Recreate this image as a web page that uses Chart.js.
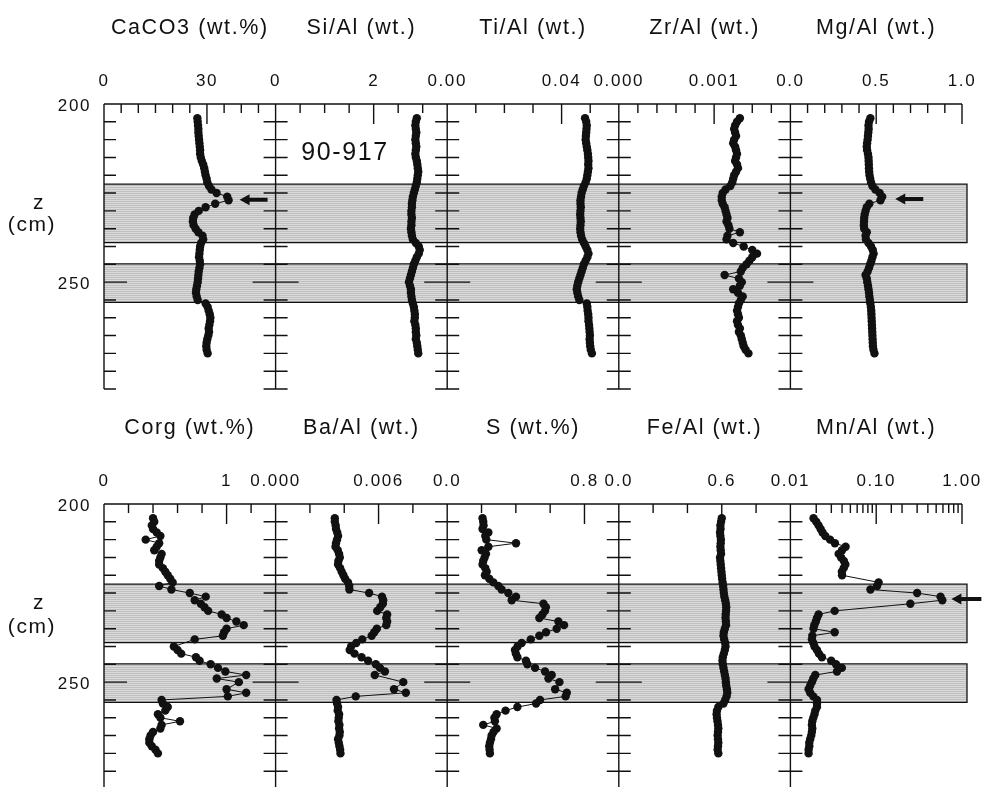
<!DOCTYPE html>
<html>
<head>
<meta charset="utf-8">
<script src="https://cdn.jsdelivr.net/npm/chart.js@4.4.0/dist/chart.umd.min.js"></script>
<style>
  html, body { margin: 0; padding: 0; background: #fff; overflow: hidden; }
  .row { position: absolute; left: 0; width: 982px; height: 400px; }
</style>
</head>
<body>
<div class="row" style="top:0"><canvas id="upper" width="982" height="400"></canvas></div>
<div class="row" style="top:400px"><canvas id="lower" width="982" height="400"></canvas></div>
<script>
// sample depths (cm), shared by every profile
const depth = [204, 205, 206, 207, 208, 209, 210, 211, 212, 213,
  214, 215, 216, 217, 218, 219, 220, 221, 222, 223,
  224, 225, 226, 227, 228, 229, 230, 231, 232, 233,
  234, 235, 236, 237, 238, 239, 240, 241, 242, 243,
  244, 245, 246, 247, 248, 249, 250, 251, 252, 253,
  254, 255, 256, 257, 258, 259, 260, 261, 262, 263,
  264, 265, 266, 267, 268, 269, 270];

// upper row
const caco3 = [27.2, 27.3, 27.4, 27.5, 27.5, 27.6, 27.7, 27.8, 27.9, 28.0,
  28.0, 28.2, 28.5, 28.9, 29.2, 29.4, 29.6, 29.9, 30.1, 30.6,
  31.3, 32.8, 35.9, 36.3, 32.4, 29.6, 27.6, 26.4, 26.0, 25.9,
  26.1, 26.7, 27.5, 28.7, 28.9, 28.3, 28.0, 27.9, 27.8, 27.7,
  27.9, 28.0, 27.8, 27.6, 27.5, 27.4, 27.3, 27.1, 26.9, 26.8,
  27.0, 27.3, 29.6, 30.2, 30.5, 30.8, 31.0, 30.9, 30.7, 30.5,
  30.6, 30.4, 30.1, 29.9, 29.8, 29.9, 30.2];
const siAl = [2.88, 2.86, 2.85, 2.86, 2.87, 2.86, 2.85, 2.86, 2.87, 2.86,
  2.85, 2.86, 2.88, 2.89, 2.90, 2.91, 2.90, 2.89, 2.88, 2.86,
  2.84, 2.82, 2.80, 2.79, 2.78, 2.78, 2.77, 2.77, 2.78, 2.77,
  2.77, 2.76, 2.77, 2.78, 2.80, 2.86, 2.92, 2.94, 2.92, 2.88,
  2.85, 2.82, 2.80, 2.78, 2.76, 2.74, 2.72, 2.74, 2.76, 2.76,
  2.77, 2.78, 2.80, 2.82, 2.83, 2.84, 2.84, 2.83, 2.85, 2.86,
  2.86, 2.87, 2.86, 2.88, 2.89, 2.90, 2.91];
const tiAl = [0.0482, 0.0486, 0.0488, 0.0487, 0.0486, 0.0485, 0.0484, 0.0486, 0.0488, 0.0490,
  0.0492, 0.0493, 0.0494, 0.0493, 0.0494, 0.0492, 0.0490, 0.0488, 0.0484, 0.0478,
  0.0474, 0.0470, 0.0468, 0.0466, 0.0466, 0.0467, 0.0466, 0.0465, 0.0466, 0.0467,
  0.0466, 0.0465, 0.0466, 0.0468, 0.0472, 0.0478, 0.0484, 0.0490, 0.0494, 0.0490,
  0.0484, 0.0478, 0.0474, 0.0470, 0.0466, 0.0462, 0.0458, 0.0455, 0.0453, 0.0455,
  0.0458, 0.0462, 0.0488, 0.0490, 0.0491, 0.0493, 0.0494, 0.0494, 0.0496, 0.0497,
  0.0498, 0.0499, 0.0498, 0.0499, 0.0500, 0.0502, 0.0506];
const zrAl = [0.00127, 0.00124, 0.00122, 0.00121, 0.00122, 0.00123, 0.00121, 0.00120, 0.00122, 0.00123,
  0.00124, 0.00123, 0.00122, 0.00124, 0.00125, 0.00123, 0.00121, 0.00120, 0.00119, 0.00117,
  0.00112, 0.00109, 0.00108, 0.00108, 0.00109, 0.00111, 0.00112, 0.00113, 0.00114, 0.00113,
  0.00115, 0.00116, 0.00127, 0.00114, 0.00113, 0.00120, 0.00131, 0.00140, 0.00145, 0.00140,
  0.00137, 0.00134, 0.00130, 0.00128, 0.00111, 0.00126, 0.00129, 0.00127, 0.00120, 0.00125,
  0.00130, 0.00128, 0.00126, 0.00125, 0.00124, 0.00125, 0.00126, 0.00124, 0.00125, 0.00127,
  0.00126, 0.00128, 0.00129, 0.00130, 0.00131, 0.00133, 0.00136];
const mgAl = [0.466, 0.458, 0.455, 0.456, 0.454, 0.452, 0.450, 0.447, 0.445, 0.447,
  0.452, 0.455, 0.456, 0.457, 0.458, 0.459, 0.461, 0.465, 0.470, 0.478,
  0.495, 0.520, 0.535, 0.525, 0.460, 0.445, 0.438, 0.433, 0.430, 0.429,
  0.428, 0.430, 0.445, 0.438, 0.440, 0.455, 0.470, 0.480, 0.485, 0.478,
  0.472, 0.465, 0.458, 0.450, 0.438, 0.445, 0.448, 0.452, 0.455, 0.458,
  0.460, 0.463, 0.466, 0.469, 0.471, 0.472, 0.473, 0.474, 0.475, 0.476,
  0.477, 0.478, 0.479, 0.480, 0.481, 0.484, 0.490];

// lower row (null = no sample at that depth)
const corg = [0.40, 0.41, 0.39, 0.40, 0.43, 0.46, 0.34, 0.45, 0.43, 0.41,
  0.47, 0.46, 0.45, 0.45, 0.48, 0.50, 0.52, 0.54, 0.56, 0.45,
  0.55, 0.70, 0.83, 0.74, 0.79, 0.82, 0.85, 0.96, 1.00, 1.08,
  1.14, 1.00, 0.98, 0.97, 0.74, null, 0.57, 0.60, 0.63, 0.75,
  0.78, 0.87, 0.93, 0.99, 1.16, 0.92, 1.10, null, 1.00, 1.16,
  1.01, 0.47, 0.48, 0.52, 0.50, 0.44, 0.46, 0.62, 0.47, 0.46,
  0.40, 0.38, 0.37, 0.37, 0.39, 0.42, 0.44];
const baAl = [0.00345, 0.00345, 0.00350, 0.00352, 0.00359, 0.00364, 0.00358, 0.00352, 0.00349, 0.00362,
  0.00370, 0.00374, 0.00366, 0.00364, 0.00376, 0.00385, 0.00395, 0.00405, 0.00422, 0.00429,
  0.00430, 0.00545, 0.00620, 0.00627, 0.00625, 0.00610, 0.00592, 0.00650, 0.00645, 0.00650,
  0.00645, 0.00590, 0.00575, 0.00560, 0.00505, 0.00470, 0.00440, 0.00432, 0.00460, 0.00501,
  0.00539, 0.00584, 0.00608, 0.00637, 0.00578, null, 0.00744, null, 0.00690, 0.00759,
  0.00467, 0.00355, 0.00358, 0.00364, 0.00362, 0.00370, 0.00368, 0.00366, 0.00372, 0.00370,
  0.00374, 0.00372, 0.00364, 0.00368, 0.00372, 0.00376, 0.00378];
const sulf = [0.206, 0.210, 0.212, 0.206, 0.240, 0.222, 0.228, 0.401, 0.240, 0.201,
  0.226, 0.218, 0.210, 0.206, 0.222, 0.230, 0.220, 0.245, 0.269, 0.298,
  0.317, 0.356, 0.401, 0.376, 0.561, 0.575, 0.570, 0.555, 0.537, 0.648,
  0.681, 0.638, 0.576, 0.537, 0.487, 0.434, 0.410, 0.395, 0.400, 0.409,
  0.459, 0.467, 0.512, 0.570, 0.609, 0.590, 0.654, null, 0.629, 0.697,
  0.690, 0.541, 0.518, 0.409, 0.340, 0.288, 0.275, 0.278, 0.210, 0.288,
  0.270, 0.259, 0.255, 0.249, 0.245, 0.247, 0.249];
const feAl = [0.600, 0.596, 0.592, 0.593, 0.590, 0.592, 0.595, 0.594, 0.592, 0.594,
  0.596, 0.590, 0.592, 0.594, 0.596, 0.598, 0.600, 0.602, 0.605, 0.608,
  0.610, 0.612, 0.615, 0.620, 0.624, 0.626, 0.625, 0.623, 0.622, 0.624,
  0.625, 0.618, 0.612, 0.610, 0.614, 0.620, 0.622, 0.618, 0.612, 0.606,
  0.604, 0.606, 0.610, 0.614, 0.618, 0.622, 0.624, 0.626, 0.630, 0.632,
  0.628, 0.620, 0.610, 0.580, 0.572, 0.570, 0.572, 0.575, 0.578, 0.580,
  0.578, 0.576, 0.578, 0.580, 0.578, 0.576, 0.580];
const mnAl = [0.0186, 0.0200, 0.0213, 0.0225, 0.0237, 0.0255, 0.0290, 0.0330, 0.0440, 0.0400,
  0.0365, 0.0390, 0.0420, 0.0437, 0.0418, 0.0398, 0.0400, null, 0.1067, 0.1023,
  0.0857, 0.300, 0.562, 0.590, 0.250, null, 0.0328, 0.0213, 0.0204, 0.0198,
  0.0190, 0.0186, 0.0328, 0.0180, 0.0178, 0.0185, 0.0191, 0.0204, 0.0215, 0.0233,
  0.0299, 0.0340, 0.0398, 0.0349, 0.0195, 0.0185, 0.0178, 0.0170, 0.0163, 0.0170,
  0.0185, 0.0204, 0.0204, 0.0204, 0.0195, 0.0191, 0.0185, 0.0180, 0.0178, 0.0180,
  0.0178, 0.0175, 0.0170, 0.0166, 0.0166, 0.0163, 0.0163];

// shaded intervals (cm)
const bands = [[222.5, 238.9], [244.9, 255.7]];

// labelled ticks
const depthLabels = ['200', '250'];
const caco3Ticks = ['0', '30'];
const siTicks = ['0', '2'];
const tiTicks = ['0.00', '0.04'];
const zrTicks = ['0.000', '0.001'];
const mgTicks = ['0.0', '0.5', '1.0'];
const corgTicks = ['0', '1'];
const baTicks = ['0.000', '0.006'];
const sTicks = ['0.0', '0.8'];
const feTicks = ['0.0', '0.6'];
const mnTicks = ['0.01', '0.10', '1.00'];

const ink = '#111';
const family = '"Liberation Sans", Arial, Helvetica, sans-serif';

function labelFor(list, v) {
  const hit = list.find(t => Math.abs(Number(t) - v) < 1e-7);
  return hit === undefined ? '' : hit;
}

const upperPanels = [
  {title: 'CaCO3 (wt.%)', values: caco3, min: 0, max: 50, step: 5, labels: caco3Ticks},
  {title: 'Si/Al (wt.)', values: siAl, min: 0, max: 3.5, step: 0.5, labels: siTicks},
  {title: 'Ti/Al (wt.)', values: tiAl, min: 0, max: 0.06, step: 0.01, labels: tiTicks},
  {title: 'Zr/Al (wt.)', values: zrAl, min: 0, max: 0.0018, step: 0.0002, labels: zrTicks},
  {title: 'Mg/Al (wt.)', values: mgAl, min: 0, max: 1, step: 0.1, labels: mgTicks}
];
const lowerPanels = [
  {title: 'Corg (wt.%)', values: corg, min: 0, max: 1.4, step: 0.2, labels: corgTicks},
  {title: 'Ba/Al (wt.)', values: baAl, min: 0, max: 0.01, step: 0.002, labels: baTicks},
  {title: 'S (wt.%)', values: sulf, min: 0, max: 1, step: 0.2, labels: sTicks},
  {title: 'Fe/Al (wt.)', values: feAl, min: 0, max: 1, step: 0.2, labels: feTicks},
  {title: 'Mn/Al (wt.)', values: mnAl, min: 0.01, max: 1, log: true, labels: mnTicks}
];

// fine horizontal hatching for the shaded intervals
function bandPattern(ctx) {
  const c = document.createElement('canvas');
  c.width = 4; c.height = 2;
  const g = c.getContext('2d');
  g.fillStyle = '#dadada'; g.fillRect(0, 0, 4, 2);
  g.fillStyle = '#bfbfbf'; g.fillRect(0, 1, 4, 1);
  return ctx.createPattern(c, 'repeat');
}

// scales keep a fixed size and ask for no extra room around the plot
function fixSize(s, w, h) {
  if (w) s.width = w;
  if (h) s.height = h;
  s.paddingLeft = s.paddingRight = s.paddingTop = s.paddingBottom = 0;
}

// frame, shading, tick marks, arrows and notes
const panelFrame = {
  id: 'panelFrame',
  beforeDraw(chart) {
    chart.ctx.letterSpacing = '1.6px';
  },
  beforeDatasetsDraw(chart, args, opts) {
    const {ctx, chartArea: a, scales} = chart;
    const y = scales.y;
    ctx.save();
    const fill = bandPattern(ctx);
    bands.forEach(([d0, d1]) => {
      const y0 = y.getPixelForValue(d0), y1 = y.getPixelForValue(d1);
      ctx.fillStyle = fill;
      ctx.fillRect(a.left, y0, a.right + 5 - a.left, y1 - y0);
      ctx.strokeStyle = ink;
      ctx.lineWidth = 1.3;
      ctx.beginPath();
      ctx.moveTo(a.left, y0);
      ctx.lineTo(a.right + 5, y0);
      ctx.lineTo(a.right + 5, y1);
      ctx.lineTo(a.left, y1);
      ctx.stroke();
    });

    ctx.strokeStyle = ink;
    ctx.lineWidth = 1.4;
    ctx.beginPath();
    ctx.moveTo(a.left, a.top);
    ctx.lineTo(a.right, a.top);
    opts.panels.forEach((p, i) => {
      const s = scales['x' + i];
      ctx.moveTo(s.left, a.top);
      ctx.lineTo(s.left, a.bottom);
      // value ticks hanging from the top line
      s.ticks.forEach(t => {
        const px = s.getPixelForValue(t.value);
        const len = labelFor(p.labels, t.value) ? 20 : 9;
        ctx.moveTo(px, a.top);
        ctx.lineTo(px, a.top + len);
      });
    });
    // depth ticks on every panel axis
    y.ticks.forEach(t => {
      if (t.value <= 200) return;
      const py = y.getPixelForValue(t.value);
      const len = depthLabels.includes(String(t.value)) ? 23 : 12;
      opts.panels.forEach((p, i) => {
        const sx = scales['x' + i].left;
        ctx.moveTo(i === 0 ? sx : sx - len, py);
        ctx.lineTo(sx + len, py);
      });
    });
    ctx.stroke();
    ctx.restore();
  },
  afterDatasetsDraw(chart, args, opts) {
    const {ctx, scales, chartArea: a} = chart;
    ctx.save();
    ctx.fillStyle = ink;
    (opts.arrows || []).forEach(ar => {
      const x = scales[ar.axis].getPixelForValue(ar.value);
      const yy = scales.y.getPixelForValue(ar.depth);
      ctx.beginPath();
      ctx.moveTo(x, yy);
      ctx.lineTo(x + 10, yy - 5.5);
      ctx.lineTo(x + 10, yy - 2);
      ctx.lineTo(x + ar.len, yy - 2);
      ctx.lineTo(x + ar.len, yy + 2);
      ctx.lineTo(x + 10, yy + 2);
      ctx.lineTo(x + 10, yy + 5.5);
      ctx.closePath();
      ctx.fill();
    });
    ctx.textAlign = 'center';
    ctx.textBaseline = 'middle';
    (opts.notes || []).forEach(n => {
      ctx.font = n.size + 'px ' + family;
      ctx.fillText(n.text, n.x, a.top + n.dy);
    });
    ctx.restore();
  }
};

function makeRow(id, panels, arrows, notes) {
  const scales = {
    y: {
      type: 'linear', position: 'left', reverse: true, min: 200, max: 280,
      grid: {display: false, drawTicks: false}, border: {display: false},
      ticks: {
        stepSize: 5, autoSkip: false, padding: 13, labelOffset: 2, color: ink,
        font: {family: family, size: 17},
        callback: v => depthLabels.includes(String(v)) ? String(v) : ''
      },
      afterFit: s => fixSize(s, 104, 0)
    }
  };
  panels.forEach((p, i) => {
    scales['x' + i] = {
      type: p.log ? 'logarithmic' : 'linear', position: 'top',
      stack: 'panels', stackWeight: 1, weight: panels.length - i,
      min: p.min, max: p.max,
      grid: {display: false, drawTicks: false}, border: {display: false},
      title: {display: true, text: p.title, color: ink, font: {family: family, size: 21.5}, padding: {top: 15, bottom: 0}},
      ticks: {
        stepSize: p.step, autoSkip: false, maxRotation: 0, minRotation: 0, padding: 12, color: ink,
        font: {family: family, size: 17},
        callback: v => labelFor(p.labels, v)
      },
      afterFit: s => fixSize(s, 0, 104)
    };
  });

  return new Chart(document.getElementById(id), {
    type: 'scatter',
    data: {
      datasets: panels.map((p, i) => ({
        data: depth.map((d, k) => ({x: p.values[k], y: d})),
        xAxisID: 'x' + i, yAxisID: 'y',
        showLine: true, spanGaps: true,
        borderColor: ink, borderWidth: 1,
        pointRadius: 4.2, pointBackgroundColor: ink, pointBorderWidth: 0
      }))
    },
    options: {
      responsive: false, animation: false, events: [],
      layout: {padding: {left: 0, right: 20, top: 0, bottom: 11}},
      scales: scales,
      plugins: {
        legend: {display: false}, tooltip: {enabled: false},
        panelFrame: {panels: panels, arrows: arrows, notes: notes}
      }
    },
    plugins: [panelFrame]
  });
}

makeRow('upper', upperPanels,
  [{axis: 'x0', value: 39.5, depth: 226.9, len: 28}, {axis: 'x4', value: 0.611, depth: 226.7, len: 28}],
  [{text: '90-917', x: 345, dy: 49, size: 25}, {text: 'z', x: 39, dy: 99, size: 21}, {text: '(cm)', x: 32, dy: 121, size: 21}]);
makeRow('lower', lowerPanels,
  [{axis: 'x4', value: 0.752, depth: 226.7, len: 30}],
  [{text: 'z', x: 39, dy: 99, size: 21}, {text: '(cm)', x: 32, dy: 123, size: 21}]);
</script>
</body>
</html>
